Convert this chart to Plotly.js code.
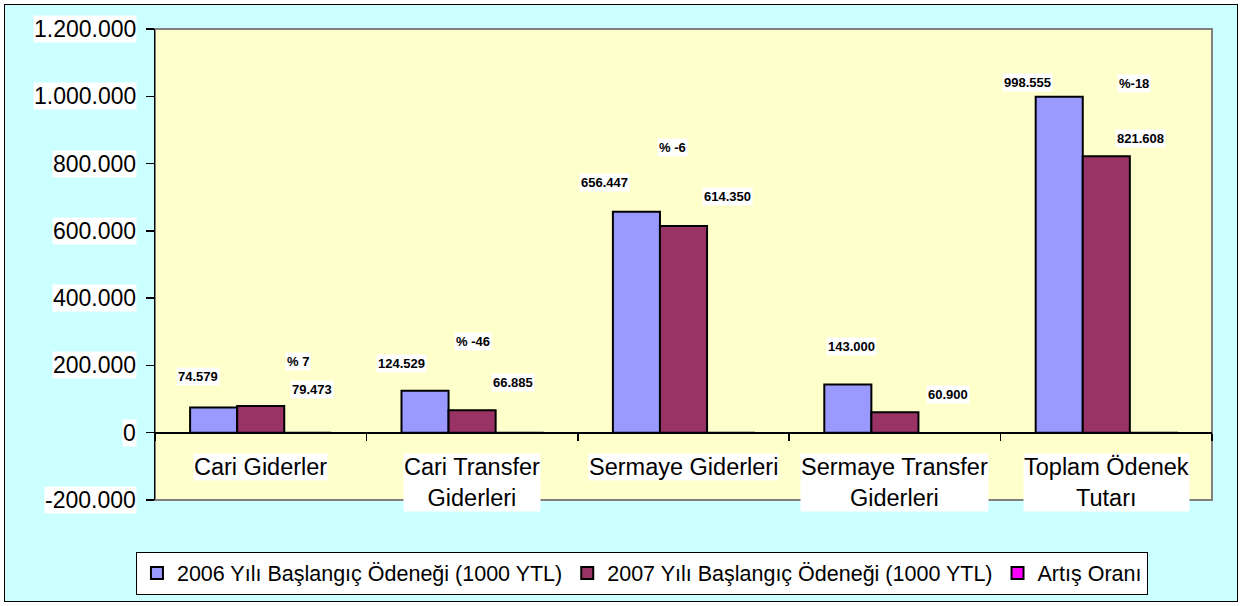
<!DOCTYPE html>
<html><head><meta charset="utf-8">
<script src="https://cdn.plot.ly/plotly-3.0.1.min.js"></script>
<style>
html,body{margin:0;padding:0;background:#fff;}
#frame{position:absolute;left:4px;top:4px;width:1232px;height:596px;border:1px solid #000;background:#CCFFFF;}
#chart{width:1232px;height:596px;}
</style></head><body><div id="frame"><div id="chart"></div></div>
<script>
// ---- data ----
const categories = ['Cari Giderler','Cari Transfer Giderleri','Sermaye Giderleri','Sermaye Transfer Giderleri','Toplam Ödenek Tutarı'];
const catLabels = ['Cari Giderler','Cari Transfer<br>Giderleri','Sermaye Giderleri','Sermaye Transfer<br>Giderleri','Toplam Ödenek<br>Tutarı'];
const values2006 = [74579,124529,656447,143000,998555];
const values2007 = [79473,66885,614350,60900,821608];
const artisOrani = [7,-46,-6,null,-18];
const artisLabels = ['% 7','% -46','% -6','','%-18'];
const seriesNames = ['2006 Yılı Başlangıç Ödeneği (1000 YTL)','2007 Yılı Başlangıç Ödeneği (1000 YTL)','Artış Oranı'];
const yTickVals = [-200000,0,200000,400000,600000,800000,1000000,1200000];

// ---- label placement (style; manual Excel label offsets in px) ----
const off2006 = {dx:[-63,-71,-79,-43,-79], dy:[31,27,29,38,14]};
const off2007 = {dx:[51,41,44,53,34], dy:[16,28,30,18,18]};
const offPct  = {dx:[37,1,-11,0,28], dy:[44,69,79,0,73]};

const FONT = 'Arial, "Liberation Sans", sans-serif';
const yMin = yTickVals[0], yMax = yTickVals[yTickVals.length-1];

function fmt(v){
  const s = Math.abs(v).toString().replace(/\B(?=(\d{3})+(?!\d))/g,'.');
  return (v<0?'-':'')+s;
}

const traces = [
  {type:'bar', name:seriesNames[0], x:categories, y:values2006,
   marker:{color:'#9999FF', line:{color:'#000', width:2}}, hoverinfo:'none'},
  {type:'bar', name:seriesNames[1], x:categories, y:values2007,
   marker:{color:'#993366', line:{color:'#000', width:2}}, hoverinfo:'none'},
  {type:'bar', name:seriesNames[2], x:categories, y:artisOrani,
   marker:{color:'#FF00FF', line:{color:'#000', width:2}}, hoverinfo:'none'}
];

const ann = [];
// y tick labels with white boxes
yTickVals.forEach(v=>{
  ann.push({xref:'paper', yref:'y', x:0, y:v, xanchor:'right', yanchor:'middle',
    xshift:-18, text:fmt(v), showarrow:false, bgcolor:'#fff', borderpad:0,
    font:{family:FONT, size:23, color:'#000'}});
});
// category labels
categories.forEach((c,i)=>{
  ann.push({xref:'x', yref:'y', x:c, y:0, xanchor:'center', yanchor:'top',
    yshift:-20, text:catLabels[i], showarrow:false, bgcolor:'#fff', borderpad:0,
    font:{family:FONT, size:23.5, color:'#000'}});
});
// data labels
categories.forEach((c,i)=>{
  ann.push({xref:'x', yref:'y', x:c, y:values2006[i], xshift:off2006.dx[i], yshift:off2006.dy[i],
    xanchor:'center', yanchor:'middle', text:'<b>'+fmt(values2006[i])+'</b>', showarrow:false,
    bgcolor:'#fff', borderpad:1, font:{family:FONT, size:13, color:'#000'}});
  ann.push({xref:'x', yref:'y', x:c, y:values2007[i], xshift:off2007.dx[i], yshift:off2007.dy[i],
    xanchor:'center', yanchor:'middle', text:'<b>'+fmt(values2007[i])+'</b>', showarrow:false,
    bgcolor:'#fff', borderpad:1, font:{family:FONT, size:13, color:'#000'}});
  if(artisOrani[i]!==null && artisLabels[i]){
    ann.push({xref:'x', yref:'y', x:c, y:values2007[i], xshift:offPct.dx[i], yshift:offPct.dy[i],
      xanchor:'center', yanchor:'middle', text:'<b>'+artisLabels[i]+'</b>', showarrow:false,
      bgcolor:'#fff', borderpad:1, font:{family:FONT, size:13, color:'#000'}});
  }
});

const layout = {
  width:1232, height:596,
  margin:{l:150, r:25, t:24, b:101},
  paper_bgcolor:'#CCFFFF', plot_bgcolor:'#FFFFCC',
  barmode:'group', bargap:0.332, bargroupgap:0,
  showlegend:true,
  font:{family:FONT, color:'#000'},
  xaxis:{type:'category', anchor:'free', position:(0-yMin)/(yMax-yMin),
    showline:true, linecolor:'#000', linewidth:1.5,
    ticks:'outside', tickson:'boundaries', ticklen:7, tickcolor:'#000', tickwidth:1.5,
    showticklabels:false, showgrid:false, zeroline:false, fixedrange:true},
  yaxis:{range:[yMin,yMax], tickvals:yTickVals, showticklabels:false,
    showline:true, linecolor:'#000', linewidth:1.5,
    ticks:'outside', ticklen:8, tickcolor:'#000', tickwidth:1.5,
    showgrid:false, zeroline:true, zerolinecolor:'#000', zerolinewidth:1.5, fixedrange:true},
  legend:{orientation:'h', xref:'paper', x:0.4607, xanchor:'center',
    yref:'container', y:0.083, yanchor:'top',
    bgcolor:'#fff', bordercolor:'#000', borderwidth:1,
    font:{family:FONT, size:21.5, color:'#000'}, itemwidth:30, traceorder:'normal'},
  shapes:[{type:'rect', xref:'paper', yref:'paper', x0:0, x1:1, y0:0, y1:1,
    line:{color:'#808080', width:2}, fillcolor:'rgba(0,0,0,0)', layer:'below'}],
  annotations:ann
};

Plotly.newPlot('chart', traces, layout, {displayModeBar:false, staticPlot:true});
</script></body></html>
